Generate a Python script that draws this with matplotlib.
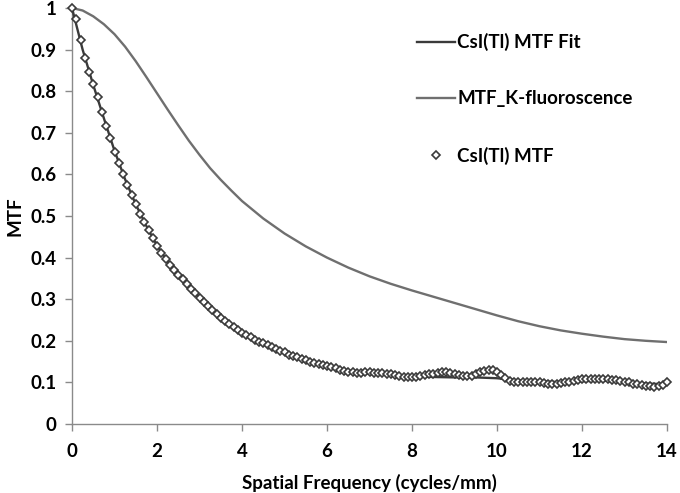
import numpy as np
import matplotlib
matplotlib.use('Agg')
import matplotlib.pyplot as plt

plt.rcParams['font.family'] = ['Lato', 'DejaVu Sans']
plt.rcParams['font.weight'] = 'bold'

# measured CsI(Tl) MTF, 0.1 cycles/mm steps
freq_meas = np.round(np.arange(0, 14.01, 0.1), 1)
mtf_meas = [
    1.000, 0.973, 0.923, 0.881, 0.847, 0.817, 0.787, 0.751, 0.717, 0.688,
    0.655, 0.628, 0.600, 0.575, 0.550, 0.528, 0.506, 0.486, 0.466, 0.446,
    0.427, 0.410, 0.396, 0.383, 0.371, 0.359, 0.348, 0.336, 0.325, 0.314,
    0.304, 0.294, 0.284, 0.274, 0.265, 0.256, 0.248, 0.240, 0.232, 0.225,
    0.219, 0.213, 0.208, 0.203, 0.198, 0.194, 0.189, 0.185, 0.180, 0.176,
    0.172, 0.167, 0.163, 0.160, 0.157, 0.153, 0.150, 0.147, 0.144, 0.142,
    0.140, 0.137, 0.134, 0.131, 0.128, 0.126, 0.124, 0.123, 0.123, 0.124,
    0.124, 0.123, 0.123, 0.122, 0.120, 0.119, 0.117, 0.116, 0.114, 0.113,
    0.112, 0.113, 0.115, 0.117, 0.119, 0.121, 0.123, 0.124, 0.124, 0.123,
    0.120, 0.118, 0.116, 0.115, 0.116, 0.119, 0.124, 0.128, 0.130, 0.129,
    0.125, 0.118, 0.110, 0.104, 0.101, 0.100, 0.100, 0.101, 0.102, 0.101,
    0.100, 0.098, 0.096, 0.096, 0.097, 0.098, 0.100, 0.102, 0.104, 0.106,
    0.107, 0.108, 0.108, 0.108, 0.108, 0.107, 0.107, 0.106, 0.105, 0.104,
    0.102, 0.100, 0.097, 0.095, 0.093, 0.092, 0.091, 0.090, 0.091, 0.094,
    0.100,
]

# fitted curve
freq_fit = [0, 0.25, 0.5, 0.75, 1.0, 1.25, 1.5, 1.75, 2.0, 2.25, 2.5, 2.75,
            3.0, 3.25, 3.5, 3.75, 4.0, 4.5, 5.0, 5.5, 6.0, 6.5, 7.0, 7.5,
            8.0, 8.5, 9.0, 9.5, 10.0, 10.5, 11.0, 11.5, 12.0, 12.5, 13.0,
            13.5, 14.0]
mtf_fit = [1.000, 0.900, 0.815, 0.735, 0.657, 0.588, 0.528, 0.476, 0.429,
           0.390, 0.359, 0.331, 0.304, 0.279, 0.256, 0.236, 0.219, 0.193,
           0.171, 0.153, 0.139, 0.128, 0.121, 0.117, 0.114, 0.113, 0.112,
           0.112, 0.110, 0.105, 0.102, 0.101, 0.103, 0.104, 0.101, 0.097,
           0.096]

# K-fluorescence MTF
freq_k = [0, 0.25, 0.5, 0.75, 1.0, 1.25, 1.5, 1.75, 2.0, 2.25, 2.5, 2.75,
          3.0, 3.25, 3.5, 3.75, 4.0, 4.5, 5.0, 5.5, 6.0, 6.5, 7.0, 7.5, 8.0,
          8.5, 9.0, 9.5, 10.0, 10.5, 11.0, 11.5, 12.0, 12.5, 13.0, 13.5, 14.0]
mtf_k = [1.000, 0.994, 0.980, 0.961, 0.937, 0.907, 0.872, 0.834, 0.795,
         0.756, 0.718, 0.681, 0.647, 0.615, 0.587, 0.561, 0.536, 0.494,
         0.458, 0.427, 0.400, 0.376, 0.355, 0.337, 0.321, 0.306, 0.291,
         0.276, 0.261, 0.247, 0.235, 0.225, 0.217, 0.210, 0.204, 0.200,
         0.197]

fig = plt.figure(figsize=(6.8, 4.93), dpi=100)
ax = fig.add_axes([72 / 680, 1 - 424 / 493, (667 - 72) / 680, (424 - 8) / 493])

ax.plot(freq_fit, mtf_fit, color='#3a3a3a', lw=1.7, label='CsI(Tl) MTF Fit', zorder=3)
ax.plot(freq_k, mtf_k, color='#6f6f6f', lw=1.7, label='MTF_K-fluoroscence', zorder=2)
ax.plot(freq_meas, mtf_meas, ls='none', marker='D', ms=4.0, mfc='white',
        mec='#3a3a3a', mew=1.2, label='CsI(Tl) MTF', zorder=4, clip_on=False)

ax.set_xlim(0, 14)
ax.set_ylim(0, 1)
ax.set_xticks(range(0, 15, 2))
ax.set_yticks(np.round(np.arange(0, 1.01, 0.1), 1))
ax.set_yticklabels(['0', '0.1', '0.2', '0.3', '0.4', '0.5', '0.6', '0.7', '0.8', '0.9', '1'])

for s in ['top', 'right']:
    ax.spines[s].set_visible(False)
for s in ['left', 'bottom']:
    ax.spines[s].set_color('#8a8a8a')
    ax.spines[s].set_linewidth(1.0)
ax.tick_params(direction='out', length=5, width=1.0, color='#8a8a8a',
               labelsize=13.5, labelcolor='black', pad=6)
ax.tick_params(axis='x', pad=9)
for lab in ax.get_xticklabels() + ax.get_yticklabels():
    lab.set_fontweight('bold')

ax.set_xlabel('Spatial Frequency (cycles/mm)', fontsize=13.5, fontweight='bold', labelpad=10)
ax.set_ylabel('MTF', fontsize=13.5, fontweight='bold', labelpad=5)

leg = ax.legend(loc='upper left', bbox_to_anchor=(417 / 680, 1 - 33 / 493),
                bbox_transform=fig.transFigure, frameon=False, borderpad=0,
                borderaxespad=0, handlelength=2.0, handletextpad=0.15,
                labelspacing=2.1, prop={'size': 13.5, 'weight': 'bold'})

fig.savefig('out.png', dpi=100)
